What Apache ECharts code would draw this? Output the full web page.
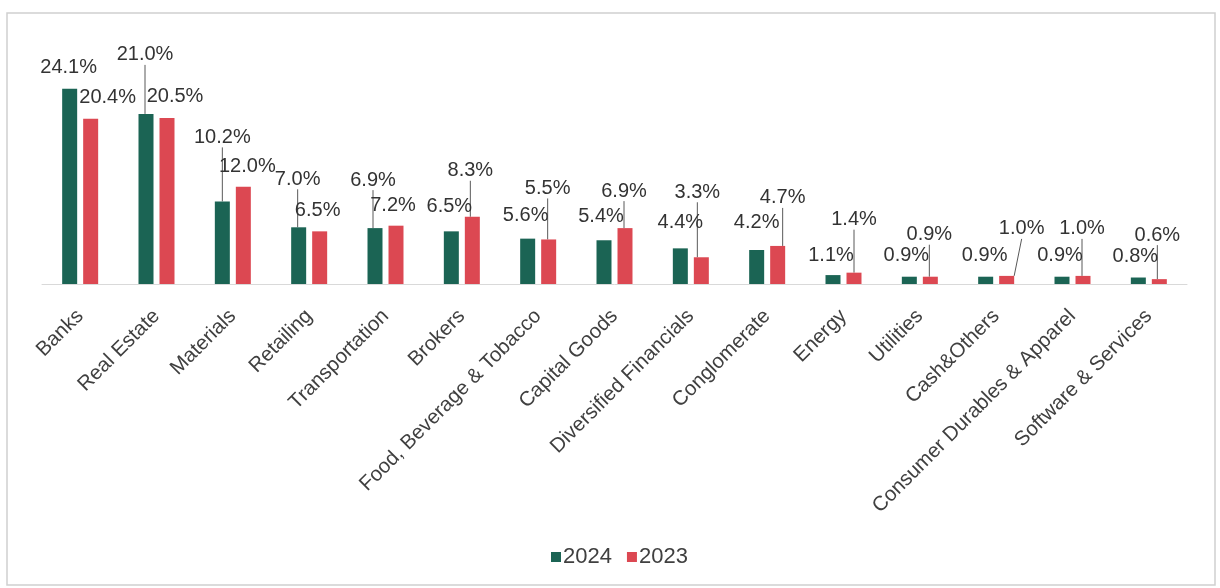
<!DOCTYPE html>
<html>
<head>
<meta charset="utf-8">
<script src="https://cdn.jsdelivr.net/npm/echarts@6/dist/echarts.min.js"></script>
<style>
  html, body { margin: 0; padding: 0; background: #ffffff; }
  #chart { width: 1220px; height: 588px; }
</style>
</head>
<body>
<div id="chart"></div>
<script>
// ---- data ----
const categories = [
  'Banks', 'Real Estate', 'Materials', 'Retailing', 'Transportation', 'Brokers',
  'Food, Beverage & Tobacco', 'Capital Goods', 'Diversified Financials', 'Conglomerate',
  'Energy', 'Utilities', 'Cash&Others', 'Consumer Durables & Apparel', 'Software & Services'
];
const values2024 = [24.1, 21.0, 10.2, 7.0, 6.9, 6.5, 5.6, 5.4, 4.4, 4.2, 1.1, 0.9, 0.9, 0.9, 0.8];
const values2023 = [20.4, 20.5, 12.0, 6.5, 7.2, 8.3, 5.5, 6.9, 3.3, 4.7, 1.4, 0.9, 1.0, 1.0, 0.6];
const seriesNames = ['2024', '2023'];

// ---- label placement (styling, not data) ----
const labelOffsets2024 = [
  [-1, -6], [-1, -44], [0, -49], [-1, -33], [-2, -33], [-2, -10], [-2, -8], [-3, -9],
  [0, -11], [0, -12], [-2, -5], [-3, -6], [-1, -6], [-2, -6], [-3, -6]
];
const labelOffsets2023 = [
  [17, -6], [8, -6], [4, -5], [-2, -6], [-3, -5], [-2, -31], [-1, -36], [-1, -22],
  [-4, -50], [5, -33], [0, -38], [-1, -27], [15, -32], [-1, -32], [-2, -29]
];
const leader2024 = [false, true, true, true, true, false, false, false, false, false, false, false, false, false, false];
const leader2023 = [false, false, false, false, false, true, true, true, true, true, true, true, true, true, true];

const colors = ['#1b6454', '#dc4852'];

function buildData(values, leaders) {
  return values.map((v, i) => ({
    value: v,
    labelLine: { show: leaders[i] }
  }));
}

const chart = echarts.init(document.getElementById('chart'), null, { renderer: 'canvas' });

const labelCommon = {
  show: true,
  position: 'top',
  distance: 5,
  color: '#333333',
  fontFamily: 'Liberation Sans, Arial, sans-serif',
  fontSize: 20,
  formatter: p => p.value.toFixed(1) + '%'
};
const labelLineCommon = {
  show: false,
  lineStyle: { color: '#595959', width: 1 }
};

const option = {
  animation: false,
  backgroundColor: '#ffffff',
  graphic: [{
    type: 'rect',
    shape: { x: 7, y: 13, width: 1208, height: 572 },
    style: { fill: 'none', stroke: '#d0d0d0', lineWidth: 1.5 },
    silent: true,
    z: -10
  }],
  grid: { left: 42, right: 33, top: 81.5, bottom: 304, outerBoundsMode: 'none' },
  legend: {
    left: 546,
    top: 541,
    itemWidth: 10,
    itemHeight: 10,
    itemGap: 15,
    icon: 'rect',
    textStyle: {
      fontFamily: 'Liberation Sans, Arial, sans-serif',
      fontSize: 22,
      color: '#404040',
      padding: [0, 0, 0, -3]
    },
    data: seriesNames
  },
  xAxis: {
    type: 'category',
    data: categories,
    axisLine: { show: true, lineStyle: { color: '#d9d9d9', width: 1 } },
    axisTick: { show: false },
    axisLabel: {
      interval: 0,
      rotate: 45,
      margin: 29,
      padding: [22, 0, 0, 0],
      color: '#404040',
      fontFamily: 'Liberation Sans, Arial, sans-serif',
      fontSize: 20.5
    }
  },
  yAxis: {
    type: 'value',
    min: 0,
    max: 25,
    show: false,
    splitLine: { show: false }
  },
  series: [
    {
      name: seriesNames[0],
      type: 'bar',
      data: buildData(values2024, leader2024),
      barWidth: 15,
      barGap: '40%',
      itemStyle: { color: colors[0] },
      label: labelCommon,
      labelLine: labelLineCommon,
      labelLayout: function (params) {
        const off = labelOffsets2024[params.dataIndex];
        return { dx: off[0], dy: off[1] };
      }
    },
    {
      name: seriesNames[1],
      type: 'bar',
      data: buildData(values2023, leader2023),
      barWidth: 15,
      barGap: '40%',
      itemStyle: { color: colors[1] },
      label: labelCommon,
      labelLine: labelLineCommon,
      labelLayout: function (params) {
        const off = labelOffsets2023[params.dataIndex];
        return { dx: off[0], dy: off[1] };
      }
    }
  ]
};

chart.setOption(option);
</script>
</body>
</html>
